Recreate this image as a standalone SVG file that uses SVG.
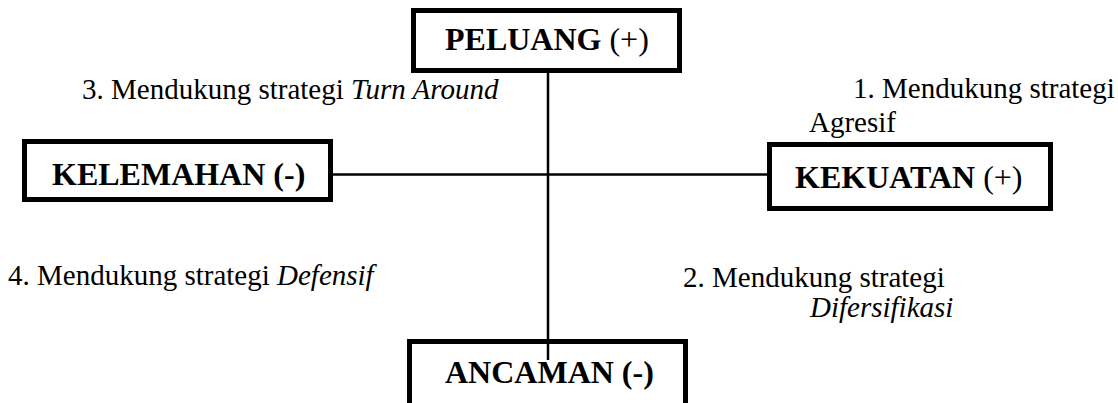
<svg xmlns="http://www.w3.org/2000/svg" width="1118" height="403" viewBox="0 0 1118 403">
<style>
.box{fill:#fff;stroke:#000;stroke-width:5}
.lbl{font-family:"Liberation Serif",serif;font-size:32px;font-weight:bold;fill:#000}
.lbl .n{font-weight:normal}
.txt{font-family:"Liberation Serif",serif;font-size:29px;fill:#000}
.i{font-style:italic}
.con{stroke:#000;stroke-width:2.5;fill:none}
</style>
<rect width="1118" height="403" fill="#fff"/>
<g id="connectors">
<line class="con" x1="548" y1="72" x2="548" y2="360"/>
<line class="con" x1="333" y1="174.5" x2="767" y2="174.5"/>
</g>
<g id="peluang">
<rect class="box" x="413.5" y="10.5" width="266" height="60"/>
<text class="lbl" x="445" y="50">PELUANG <tspan class="n">(+)</tspan></text>
</g>
<g id="kelemahan">
<rect class="box" x="24.5" y="141.5" width="306" height="58"/>
<text class="lbl" x="52" y="185">KELEMAHAN (-)</text>
</g>
<g id="kekuatan">
<rect class="box" x="769.5" y="144.5" width="281" height="64"/>
<text class="lbl" x="795" y="188">KEKUATAN <tspan class="n">(+)</tspan></text>
</g>
<g id="ancaman">
<rect class="box" x="409.5" y="341.5" width="276" height="80"/>
<line class="con" x1="548" y1="341" x2="548" y2="360"/>
<text class="lbl" x="445" y="383">ANCAMAN (-)</text>
</g>
<g id="labels">
<text class="txt" x="82" y="99">3. Mendukung strategi <tspan class="i">Turn Around</tspan></text>
<text class="txt" x="853" y="98">1. Mendukung strategi</text>
<text class="txt" x="809" y="132">Agresif</text>
<text class="txt" x="8" y="285">4. Mendukung strategi <tspan class="i">Defensif</tspan></text>
<text class="txt" x="683" y="287">2. Mendukung strategi</text>
<text class="txt i" x="810" y="317">Difersifikasi</text>
</g>
</svg>
